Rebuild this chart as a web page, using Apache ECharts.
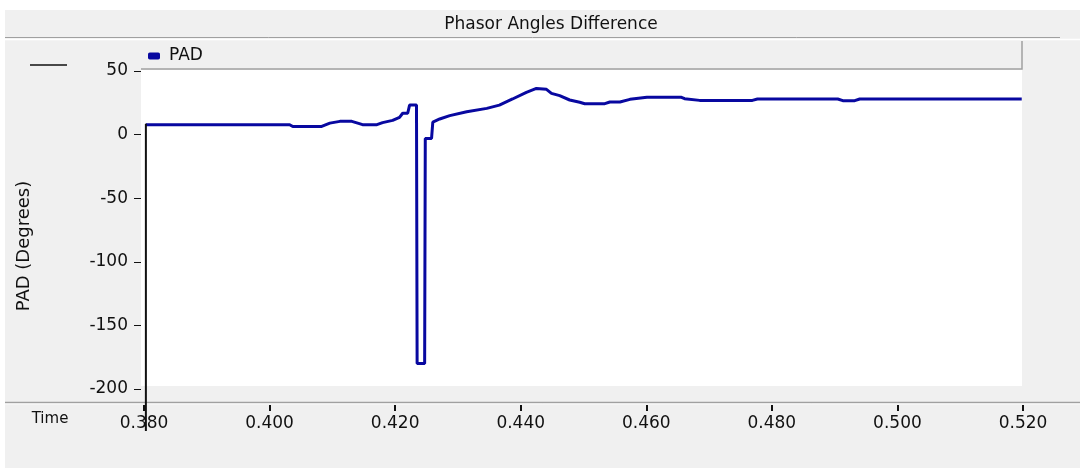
<!DOCTYPE html>
<html>
<head>
<meta charset="utf-8">
<title>Phasor Angles Difference</title>
<script src="https://cdn.jsdelivr.net/npm/echarts@6/dist/echarts.min.js"></script>
<style>
  html, body { margin: 0; padding: 0; background: #ffffff; }
  #chart { width: 1080px; height: 468px; }
</style>
</head>
<body>
<div id="chart"></div>
<script>
// Phasor angle difference (degrees) sampled over time (s)
const times = [
  0.3803, 0.4032, 0.4037, 0.4082, 0.4096, 0.4112, 0.4131, 0.4143, 0.4148, 0.4171,
  0.4180, 0.4196, 0.4207, 0.4212, 0.4220, 0.4223, 0.4234, 0.4235, 0.4247, 0.4248,
  0.4258, 0.4260, 0.4271, 0.4287, 0.4314, 0.4346, 0.4366, 0.4387, 0.4409, 0.4425,
  0.4441, 0.4449, 0.4462, 0.4478, 0.4494, 0.4502, 0.4534, 0.4542, 0.4558, 0.4574,
  0.4601, 0.4656, 0.4661, 0.4685, 0.4769, 0.4777, 0.4905, 0.4913, 0.4932, 0.4940,
  0.5198
];
const pad = [
  7.8, 7.8, 6.3, 6.3, 9.0, 10.4, 10.4, 8.6, 7.8, 7.8,
  9.4, 11.2, 13.6, 16.8, 16.8, 23.2, 23.2, -180, -180, -3,
  -3, 9.9, 12.3, 14.9, 18.0, 20.6, 23.2, 28.0, 33.2, 36.3,
  35.6, 32.4, 30.6, 27.2, 25.4, 24.3, 24.3, 25.6, 25.6, 27.7,
  29.3, 29.3, 28.2, 26.9, 26.9, 28.0, 28.0, 26.7, 26.7, 28.0,
  28.0
];
const timeTicks = [0.38, 0.40, 0.42, 0.44, 0.46, 0.48, 0.50, 0.52];
const padTicks = [-200, -150, -100, -50, 0, 50];
// the value range runs a little below the lowest tick, down to the time axis
const padMin = -212.6;

const seriesName = 'PAD';
const titleText = 'Phasor Angles Difference';
const yName = 'PAD (Degrees)';
const xName = 'Time';

const FONT = '"DejaVu Sans", "Liberation Sans", sans-serif';
const PANEL = '#f0f0f0';
const EDGE = '#a0a0a0';
const TRACE = '#0808a0';

const chart = echarts.init(document.getElementById('chart'), null, { renderer: 'canvas' });

chart.setOption({
  animation: false,
  backgroundColor: '#ffffff',
  title: {
    text: titleText,
    left: 551,
    top: 25,
    textAlign: 'center',
    textVerticalAlign: 'middle',
    padding: 0,
    textStyle: { fontFamily: FONT, fontSize: 17, fontWeight: 'normal', color: '#111111' }
  },
  legend: {
    data: [{ name: seriesName, icon: 'roundRect' }],
    left: 148,
    top: 47,
    padding: 0,
    itemWidth: 12,
    itemHeight: 7,
    textStyle: { fontFamily: FONT, fontSize: 17, color: '#111111', lineHeight: 18, padding: [0, 0, 0, 4] }
  },
  grid: { left: 144, right: 57, top: 71, bottom: 63, containLabel: false },
  xAxis: {
    type: 'value',
    position: 'bottom',
    min: timeTicks[0],
    max: timeTicks[timeTicks.length - 1],
    interval: 0.02,
    axisLine: { show: false, onZero: false },
    axisTick: { show: true, inside: false, length: 6, customValues: timeTicks, lineStyle: { color: '#111111', width: 2 } },
    axisLabel: {
      margin: 10,
      customValues: timeTicks,
      fontFamily: FONT, fontSize: 17, color: '#111111',
      formatter: v => v.toFixed(3)
    },
    splitLine: { show: false }
  },
  yAxis: {
    type: 'value',
    position: 'left',
    min: padMin,
    max: padTicks[padTicks.length - 1],
    offset: 3,
    axisLine: { show: false, onZero: false },
    axisTick: { show: true, inside: false, length: 7, customValues: padTicks, lineStyle: { color: '#111111', width: 1 } },
    axisLabel: { margin: 13, customValues: padTicks, fontFamily: FONT, fontSize: 17, color: '#111111' },
    splitLine: { show: false }
  },
  series: [{
    name: seriesName,
    type: 'line',
    data: times.map((t, i) => [t, pad[i]]),
    symbol: 'none',
    color: TRACE,
    lineStyle: { color: TRACE, width: 3 },
    z: 5
  }]
});

// Cursor line at the first sample, dropped down through the time axis
const start = chart.convertToPixel({ gridIndex: 0 }, [times[0], pad[0]]);

chart.setOption({
  graphic: {
    elements: [
      // panel backgrounds
      { type: 'rect', z: -20, silent: true, shape: { x: 5, y: 10, width: 1075, height: 460 }, style: { fill: PANEL } },
      { type: 'line', z: -19, silent: true, shape: { x1: 5, y1: 37.5, x2: 1060, y2: 37.5 }, style: { stroke: EDGE, lineWidth: 1 } },
      { type: 'line', z: -19, silent: true, shape: { x1: 5, y1: 39.5, x2: 1080, y2: 39.5 }, style: { stroke: '#ffffff', lineWidth: 1.5 } },
      // legend strip
      { type: 'rect', z: -18, silent: true, shape: { x: 141, y: 41, width: 881, height: 28 }, style: { fill: PANEL } },
      { type: 'polyline', z: -17, silent: true, shape: { points: [[1022, 41], [1022, 69], [141, 69]] }, style: { stroke: EDGE, lineWidth: 1.5, fill: null } },
      // plotting area
      { type: 'rect', z: -18, silent: true, shape: { x: 141, y: 70, width: 881, height: 316 }, style: { fill: '#ffffff' } },
      // time axis separator
      { type: 'line', z: -16, silent: true, shape: { x1: 5, y1: 402.5, x2: 1080, y2: 402.5 }, style: { stroke: EDGE, lineWidth: 1.5 } },
      { type: 'line', z: -16, silent: true, shape: { x1: 5, y1: 404, x2: 1080, y2: 404 }, style: { stroke: '#fafafa', lineWidth: 1 } },
      // spare legend swatch on the left
      { type: 'line', z: 10, silent: true, shape: { x1: 30, y1: 65, x2: 67, y2: 65 }, style: { stroke: '#111111', lineWidth: 1.5 } },
      // cursor
      { type: 'line', z: 10, silent: true, shape: { x1: start[0], y1: start[1] - 1, x2: start[0], y2: 431 }, style: { stroke: '#111111', lineWidth: 2 } },
      // axis names
      { type: 'text', z: 10, silent: true, x: 24, y: 246, rotation: Math.PI / 2,
        style: { text: yName, fontFamily: FONT, fontSize: 18, fill: '#111111', align: 'center', verticalAlign: 'middle' } },
      { type: 'text', z: 10, silent: true, x: 50, y: 419,
        style: { text: xName, fontFamily: FONT, fontSize: 15, fill: '#111111', align: 'center', verticalAlign: 'middle' } }
    ]
  }
});
</script>
</body>
</html>
